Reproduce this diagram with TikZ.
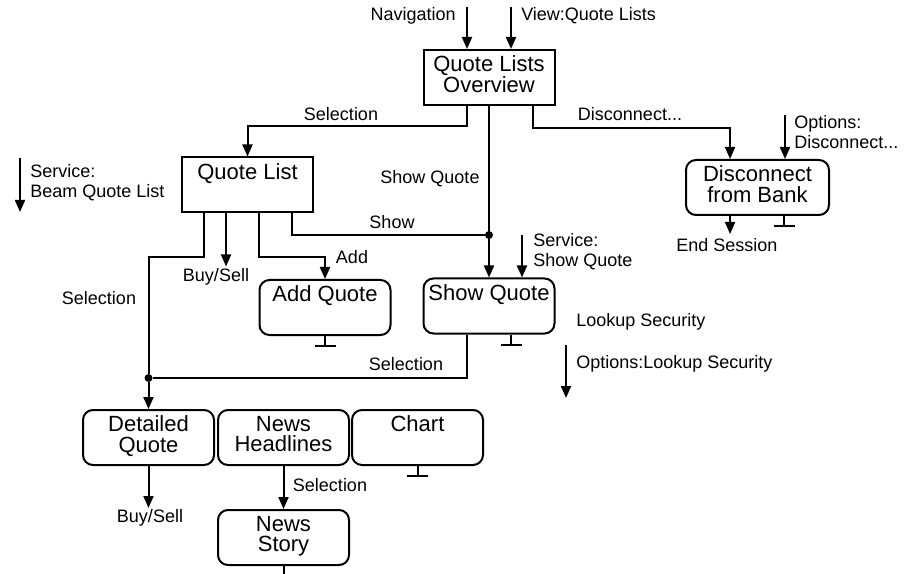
\documentclass[tikz,border=0pt]{standalone}
\usepackage{fontspec}
\setmainfont{Liberation Sans}
\usetikzlibrary{positioning,arrows.meta}

\newcommand\boxfont{\fontsize{16.5}{15.5}\selectfont}
\newcommand\lblfont{\fontsize{13.5}{15}\selectfont}

\tikzset{
  box/.style={draw, line width=1.5pt, minimum width=98.25pt, minimum height=41.25pt, inner sep=0pt},
  roundbox/.style={box, rounded corners=7.5pt},
  boxtext/.style={anchor=north, yshift=-5pt, inner sep=0pt, align=center, font=\boxfont},
  lbl/.style={font=\lblfont, inner sep=0pt, align=left},
  flow/.style={-{Triangle[width=7.5pt,length=9pt]}, line width=1.5pt},
  wire/.style={line width=1.5pt},
  endbar/.style={-{Bar[width=15.75pt]}, line width=1.5pt},
  joint/.style={circle, fill, inner sep=0pt, minimum size=6pt}
}

\begin{document}
\begin{tikzpicture}[x=0.75pt, y=-0.75pt]
	\useasboundingbox (0,0) rectangle (904,574);

	% boxes
	\node[box, label={[boxtext]north:{Quote Lists\\Overview}}] (qlo) at (489,77.5) {};
	\node[box, label={[boxtext]north:Quote List}] (qlist) at (247.5,185) {};
	\node[roundbox, label={[boxtext]north:Add Quote}] (addq) at (325,307.5) {};
	\node[roundbox, label={[boxtext]north:Show Quote}] (showq) at (489,306) {};
	\node[roundbox, minimum width=107.25pt, label={[boxtext]north:{Disconnect\\from Bank}}] (disc) at (757.5,187.5) {};
	\node[roundbox, label={[boxtext]north:{Detailed\\Quote}}] (detq) at (148.5,437.5) {};
	\node[roundbox, right=1.5pt of detq, label={[boxtext]north:{News\\Headlines}}] (newsh) {};
	\node[roundbox, right=0.75pt of newsh, label={[boxtext]north:Chart}] (chart) {};
	\node[roundbox, below=32.25pt of newsh, label={[boxtext]north:{News\\Story}}] (newss) {};

	% entry into the overview
	\coordinate (navin) at (467,7);
	\coordinate (viewin) at (511,7);
	\draw[flow] (navin) -- (navin |- qlo.north);
	\draw[flow] (viewin) -- (viewin |- qlo.north);
	\node[lbl, anchor=east] (navlbl) at (456,16) {Navigation};
	\node[lbl, anchor=west] (viewlbl) at (521,16) {View:Quote Lists};

	% overview outputs
	\draw[flow] ([xshift=-16.5pt]qlo.south) -- ++(0,20) -| (qlist);
	\node[lbl] (sellbl) at (341,114) {Selection};
	\draw[flow] (qlo) -- (showq);
	\node[lbl] (showqlbl) at (430,179) {Show Quote};
	\node[joint] (showjoint) at (489,235) {};
	\draw[flow] ([xshift=33pt]qlo.south) -- ++(0,22) -| ([xshift=-20.6pt]disc.north);
	\node[lbl] (disclbl) at (630,114) {Disconnect...};

	% disconnect
	\coordinate (optin) at (785,115);
	\draw[flow] (optin) -- (optin |- disc.north);
	\node[lbl, anchor=west] (optlbl) at (794,132) {Options:\\Disconnect...};
	\draw[flow] ([xshift=-20.6pt]disc.south) -- ++(0,18);
	\node[lbl] (endlbl) at (727,245) {End Session};
	\draw[endbar] ([xshift=19.9pt]disc.south) -- ++(0,11);

	% beam service
	\coordinate (beamin) at (20,158);
	\draw[flow] (beamin) -- ++(0,54);
	\node[lbl, anchor=west] (beamlbl) at (30,183) {Service:\\Beam Quote List};

	% quote list outputs
	\node[joint] (seljoint) at (148.5,378) {};
	\draw[wire] ([xshift=-32.6pt]qlist.south) -- ++(0,44) -| (seljoint);
	\node[lbl] (sellbl2) at (99,298) {Selection};
	\draw[flow] ([xshift=-16.1pt]qlist.south) -- ++(0,53);
	\node[lbl] (buylbl) at (216,277) {Buy/Sell};
	\draw[flow] ([xshift=8.6pt]qlist.south) -- ++(0,44) -| (addq);
	\node[lbl] (addlbl) at (352,257) {Add};
	\draw[wire] ([xshift=33.4pt]qlist.south) |- (showjoint);
	\node[lbl] (showlbl) at (392,222) {Show};
	\draw[endbar] (addq.south) -- ++(0,11);

	% show quote
	\coordinate (svcin) at (522,235);
	\draw[flow] (svcin) -- (svcin |- showq.north);
	\node[lbl, anchor=west] (svclbl) at (533,252) {Service:\\Show Quote};
	\draw[endbar] ([xshift=16.5pt]showq.south) -- ++(0,11);
	\draw[wire] ([xshift=-16.5pt]showq.south) |- (seljoint);
	\node[lbl] (sellbl3) at (406,364) {Selection};
	\node[lbl, anchor=west] (lookuplbl) at (576,322) {Lookup Security};
	\coordinate (lookin) at (566,345);
	\draw[flow] (lookin) -- ++(0,53);
	\node[lbl, anchor=west] (optlookup) at (576,364) {Options:Lookup Security};

	% bottom row
	\draw[flow] (seljoint) -- (detq);
	\draw[flow] (detq.south) -- ++(0,42);
	\node[lbl] (buylbl2) at (150,518) {Buy/Sell};
	\draw[flow] (newsh) -- (newss);
	\node[lbl] (sellbl4) at (330,485) {Selection};
	\draw[endbar] (chart.south) -- ++(0,11);
	\draw[endbar] (newss.south) -- ++(0,10);
\end{tikzpicture}
\end{document}
